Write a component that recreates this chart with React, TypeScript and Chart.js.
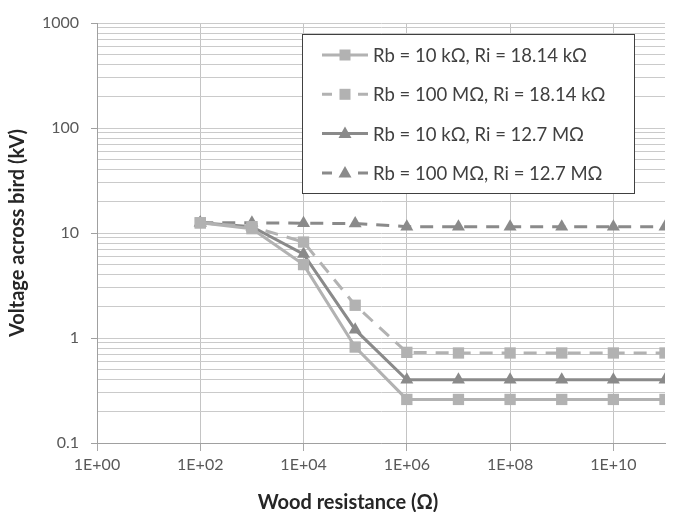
import React, { useEffect, useRef } from "react";
import { Chart, registerables } from "chart.js";

Chart.register(...registerables);

const woodResistance = [1e2, 1e3, 1e4, 1e5, 1e6, 1e7, 1e8, 1e9, 1e10, 1e11];
const seriesLabels = [
  "Rb = 10 kΩ, Ri = 18.14 kΩ",
  "Rb = 100 MΩ, Ri = 18.14 kΩ",
  "Rb = 10 kΩ, Ri = 12.7 MΩ",
  "Rb = 100 MΩ, Ri = 12.7 MΩ",
];
const rb10k_ri18k = [12.5, 11, 5, 0.82, 0.26, 0.26, 0.26, 0.26, 0.26, 0.26];
const rb100M_ri18k = [12.5, 11.5, 8.2, 2.05, 0.73, 0.72, 0.72, 0.72, 0.72, 0.72];
const rb10k_ri12M = [12.5, 11.5, 6.3, 1.2, 0.4, 0.4, 0.4, 0.4, 0.4, 0.4];
const rb100M_ri12M = [12.5, 12.5, 12.4, 12.3, 11.5, 11.5, 11.5, 11.5, 11.5, 11.5];
const xTickExponents = [0, 2, 4, 6, 8, 10];
const yTickDecades = [0.1, 1, 10, 100, 1000];
const xTitle = "Wood resistance (Ω)";
const yTitle = "Voltage across bird (kV)";

const FONT = "Lato, 'Open Sans', sans-serif";
const LIGHT = "#b2b2b2";
const DARK = "#8a8a8a";
const DASH = [13, 9];

const boxLegend = {
  id: "boxLegend",
  afterDatasetsDraw(chart: any) {
    const { ctx, chartArea } = chart;
    const x0 = chartArea.left + 205;
    const y0 = chartArea.top + 11;
    const w = 332;
    const h = 159;
    ctx.save();
    ctx.fillStyle = "#ffffff";
    ctx.fillRect(x0, y0, w, h);
    ctx.strokeStyle = "#404040";
    ctx.lineWidth = 1;
    ctx.strokeRect(x0 + 0.5, y0 + 0.5, w, h);
    chart.data.datasets.forEach((ds: any, i: number) => {
      const cy = y0 + 21 + i * 39.3;
      const lx = x0 + 20;
      const rx = x0 + 66;
      const mx = (lx + rx) / 2;
      ctx.strokeStyle = ds.borderColor;
      ctx.lineWidth = ds.borderWidth;
      if (ds.borderDash && ds.borderDash.length) {
        ctx.beginPath();
        ctx.moveTo(lx, cy);
        ctx.lineTo(lx + 10, cy);
        ctx.moveTo(rx - 10, cy);
        ctx.lineTo(rx, cy);
        ctx.stroke();
      } else {
        ctx.beginPath();
        ctx.moveTo(lx, cy);
        ctx.lineTo(rx, cy);
        ctx.stroke();
      }
      ctx.fillStyle = ds.pointBackgroundColor;
      if (ds.pointStyle === "rect") {
        ctx.fillRect(mx - 5.5, cy - 5.5, 11, 11);
      } else {
        ctx.beginPath();
        ctx.moveTo(mx, cy - 7);
        ctx.lineTo(mx + 6.5, cy + 4.5);
        ctx.lineTo(mx - 6.5, cy + 4.5);
        ctx.closePath();
        ctx.fill();
      }
      ctx.fillStyle = "#404040";
      ctx.font = `18.5px ${FONT}`;
      ctx.textBaseline = "middle";
      ctx.textAlign = "left";
      ctx.fillText(ds.label, rx + 5, cy + 1);
    });
    ctx.restore();
  },
};

const axisTitles = {
  id: "axisTitles",
  afterDraw(chart: any) {
    const { ctx, chartArea } = chart;
    ctx.save();
    ctx.font = `bold 20px ${FONT}`;
    ctx.fillStyle = "#262626";
    ctx.textAlign = "center";
    ctx.textBaseline = "middle";
    ctx.fillText(xTitle, chartArea.left + 251, chartArea.bottom + 60);
    ctx.translate(chartArea.left - 79, (chartArea.top + chartArea.bottom) / 2);
    ctx.rotate(-Math.PI / 2);
    ctx.fillText(yTitle, 0, 0);
    ctx.restore();
  },
};

function makeSeries(label: string, values: number[], color: string, dashed: boolean, style: string) {
  return {
    label,
    data: woodResistance.map((x, i) => ({ x, y: values[i] })),
    borderColor: color,
    backgroundColor: color,
    pointBackgroundColor: color,
    pointBorderColor: color,
    pointBorderWidth: 0,
    borderWidth: 3,
    borderDash: dashed ? DASH : [],
    pointStyle: style,
    pointRadius: style === "rect" ? 8 : 7.5,
    tension: 0,
  };
}

const isDecade = (n: number) => yTickDecades.some((d) => Math.abs(d - n) / d < 1e-6);

export default function App() {
  const ref = useRef<HTMLCanvasElement>(null);
  useEffect(() => {
    document.body.style.margin = "0";
    const chart = new Chart(ref.current!, {
      type: "line",
      data: {
        datasets: [
          makeSeries(seriesLabels[0], rb10k_ri18k, LIGHT, false, "rect"),
          makeSeries(seriesLabels[1], rb100M_ri18k, LIGHT, true, "rect"),
          makeSeries(seriesLabels[2], rb10k_ri12M, DARK, false, "triangle"),
          makeSeries(seriesLabels[3], rb100M_ri12M, DARK, true, "triangle"),
        ],
      },
      options: {
        animation: false,
        responsive: false,
        maintainAspectRatio: false,
        layout: { padding: { top: 23, right: 8, left: 31, bottom: 0 } },
        plugins: {
          legend: { display: false },
          tooltip: { enabled: false },
        },
        scales: {
          x: {
            type: "logarithmic",
            min: 1,
            max: 1e11,
            afterBuildTicks: (scale: any) => {
              scale.ticks = xTickExponents.map((e) => ({ value: Math.pow(10, e), major: true }));
            },
            afterFit: (scale: any) => {
              scale.height = 69;
            },
            ticks: {
              color: "#595959",
              font: { family: FONT, size: 16 },
              maxRotation: 0,
              autoSkip: false,
              padding: 4,
              callback: (v: any) => {
                const e = Math.round(Math.log10(Number(v)));
                return "1E+" + String(e).padStart(2, "0");
              },
            },
            grid: { color: "#c4c4c4", lineWidth: 1, tickLength: 8, tickColor: "#a8a8a8" },
            border: { display: true, color: "#a0a0a0", width: 1 },
          },
          y: {
            type: "logarithmic",
            min: 0.1,
            max: 1000,
            afterBuildTicks: (scale: any) => {
              const t: any[] = [];
              yTickDecades.forEach((d, i) => {
                if (i === yTickDecades.length - 1) {
                  t.push({ value: d, major: true });
                  return;
                }
                for (let k = 1; k <= 9; k++) t.push({ value: d * k, major: k === 1 });
              });
              scale.ticks = t;
            },
            afterFit: (scale: any) => {
              scale.width = 66;
            },
            ticks: {
              color: "#595959",
              font: { family: FONT, size: 16 },
              autoSkip: false,
              padding: 12,
              callback: (v: any) => {
                const n = Number(v);
                if (!isDecade(n)) return "";
                return n < 1 ? n.toFixed(1) : String(Math.round(n));
              },
            },
            grid: {
              color: "#cacaca",
              lineWidth: 1,
              tickLength: 6,
              tickColor: (ctx: any) => {
                const n = ctx.tick ? ctx.tick.value : 0;
                return isDecade(n) ? "#a0a0a0" : "rgba(0,0,0,0)";
              },
            },
            border: { display: true, color: "#a0a0a0", width: 1 },
          },
        },
      },
      plugins: [boxLegend, axisTitles],
    } as any);
    return () => chart.destroy();
  }, []);
  return (
    <div style={{ position: "absolute", left: 0, top: 0, width: 673, height: 512, background: "#fff" }}>
      <canvas ref={ref} width={673} height={512} style={{ width: 673, height: 512 }} />
    </div>
  );
}
